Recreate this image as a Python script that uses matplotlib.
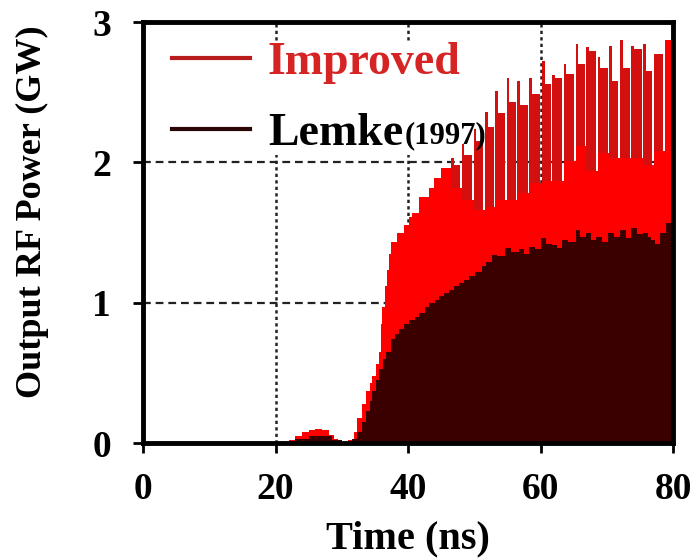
import matplotlib
matplotlib.use("Agg")
import matplotlib.pyplot as plt
from matplotlib.lines import Line2D

plt.rcParams['font.family'] = ['Liberation Serif', 'DejaVu Serif']
plt.rcParams['font.weight'] = 'bold'

# ---------------- data ----------------
x_ticks = [0, 20, 40, 60, 80]
y_ticks = [0, 1, 2, 3]
grid_x = [20, 40, 60]
grid_y = [1, 2]
legend_labels = ["Improved", "Lemke"]
legend_note = "(1997)"

# Improved: rising part (ns, GW)
imp_rise_t = [0, 21, 22, 23, 24, 25, 26, 27, 28, 28.8, 29.5, 31.0, 31.8, 32.3, 33.0,
              33.7, 34.2, 34.6, 35.1, 35.6, 35.9, 36.1, 36.5, 36.8, 37.1, 37.4, 38.3,
              39.4, 40.2, 40.6, 41.7, 43.2, 43.9, 45.0]
imp_rise_v = [0, 0.01, 0.02, 0.05, 0.08, 0.09, 0.10, 0.09, 0.06, 0.03, 0.01, 0.02, 0.08,
              0.18, 0.28, 0.37, 0.43, 0.48, 0.56, 0.65, 0.85, 0.97, 1.12, 1.23, 1.35,
              1.43, 1.50, 1.55, 1.61, 1.64, 1.75, 1.82, 1.89, 1.96]
# Improved: oscillating part (spike times, peak, shoulder, trough levels)
imp_peak_t = [46.5, 48.1, 49.9, 51.6, 53.2, 54.9, 56.5, 58.3, 60.2, 61.8, 63.5,
              65.3, 66.9, 68.6, 70.4, 72.0, 73.7, 75.5, 77.1, 78.8]
imp_peak_v = [2.03, 2.13, 2.24, 2.36, 2.51, 2.60, 2.58, 2.60, 2.72, 2.62, 2.70,
              2.84, 2.82, 2.75, 2.83, 2.87, 2.83, 2.84, 2.77, 2.87]
imp_shoulder_v = [1.98, 2.05, 2.15, 2.25, 2.35, 2.43, 2.41, 2.49, 2.56, 2.60, 2.63,
                  2.70, 2.79, 2.67, 2.58, 2.67, 2.81, 2.65, 2.77, 2.87]
imp_trough_v = [1.82, 1.73, 1.66, 1.68, 1.73, 1.73, 1.78, 1.85, 1.87, 1.87, 2.01,
                2.12, 1.94, 2.07, 2.03, 2.03, 2.03, 1.98, 2.08, 2.87]

# Lemke (1997)
lem_t = [0, 21, 23, 25, 27, 28.5, 30, 31.5, 32.3, 33.0, 33.7, 34.2, 34.6, 35.1, 35.6,
         36.2, 36.7, 37.4, 38.0, 38.6, 39.4, 40.2, 41.0, 41.7, 42.5, 43.2, 44.0, 44.7,
         45.5, 46.2, 47.0, 47.7, 48.5, 49.2, 50.1, 51.1, 51.8, 52.6, 53.5, 54.7, 55.6,
         56.7, 57.5, 58.2, 59.1, 60.0, 60.8, 61.7, 62.5, 63.2, 64.2, 65.3, 66.0, 66.8,
         67.6, 68.4, 69.3, 70.2, 71.1, 72.0, 72.9, 73.7, 74.6, 75.5, 76.2, 76.7, 77.3,
         78.0, 79.0, 80]
lem_v = [0, 0.01, 0.03, 0.05, 0.05, 0.02, 0.01, 0.03, 0.08, 0.15, 0.23, 0.30, 0.37,
         0.45, 0.53, 0.60, 0.65, 0.74, 0.78, 0.81, 0.85, 0.88, 0.90, 0.93, 0.97, 1.00,
         1.02, 1.05, 1.07, 1.09, 1.12, 1.14, 1.16, 1.19, 1.22, 1.26, 1.29, 1.34, 1.33,
         1.39, 1.36, 1.38, 1.35, 1.40, 1.38, 1.46, 1.42, 1.41, 1.39, 1.45, 1.43, 1.52,
         1.47, 1.50, 1.45, 1.47, 1.43, 1.50, 1.47, 1.52, 1.46, 1.53, 1.49, 1.50, 1.47,
         1.45, 1.42, 1.50, 1.57, 1.57]

# ---------------- styles ----------------
C_SPIKE = "#d40f0f"
C_RED = "#ff0000"
C_LEMKE = "#3a0000"
C_IMP_LINE = "#b81c1c"
C_LEM_LINE = "#2a0606"
C_IMP_TEXT = "#d62424"
CAP_W = 0.4      # width of spike tops (ns)
GAP_W = 0.25     # width of dips (ns)
X_MAX = x_ticks[-1]

# build step sequences from the read values
spk_t, spk_v = list(imp_rise_t), list(imp_rise_v)
base_t, base_v = list(imp_rise_t), list(imp_rise_v)
n = len(imp_peak_t)
for k in range(n):
    t0 = imp_peak_t[k]
    t1 = imp_peak_t[k + 1] if k + 1 < n else X_MAX
    spk_t += [t0, t0 + CAP_W, t1 - GAP_W]
    spk_v += [imp_peak_v[k], imp_shoulder_v[k], imp_trough_v[k]]
    base_t.append(t0)
    base_v.append(imp_trough_v[k])
spk_t.append(X_MAX); spk_v.append(spk_v[-1])
base_t.append(X_MAX); base_v.append(base_v[-1])

fig = plt.figure(figsize=(6.94, 5.6), dpi=100)
ax = fig.add_axes([0.2061, 0.2089, 0.7637, 0.7518])

for gx in grid_x:
    ax.axvline(gx, color="#222222", lw=1.8, ls=(0, (1.3, 1.3)), zorder=0.5)
for gy in grid_y:
    ax.axhline(gy, color="#222222", lw=1.6, ls=(0, (3.5, 2.2)), zorder=0.5)

ax.fill_between(spk_t, 0, spk_v, step="post", color=C_SPIKE, lw=0, zorder=2)
ax.fill_between(base_t, 0, base_v, step="post", color=C_RED, lw=0, zorder=2.1)
ax.fill_between(lem_t, 0, lem_v, step="post", color=C_LEMKE, lw=0, zorder=2.2)

ax.set_xlim(x_ticks[0], x_ticks[-1])
ax.set_ylim(y_ticks[0], y_ticks[-1])
ax.set_xticks(x_ticks)
ax.set_yticks(y_ticks)
ax.tick_params(axis="both", direction="out", length=7, width=2, labelsize=27)
ax.tick_params(axis="x", pad=14)
ax.tick_params(axis="y", pad=16)
for s in ax.spines.values():
    s.set_linewidth(3.5)
    s.set_zorder(5)

ax.set_xlabel("Time (ns)", fontsize=29, fontweight="bold")
ax.set_ylabel("Output RF Power (GW)", fontsize=26, fontweight="bold")
ax.xaxis.set_label_coords(0.5, -0.185)
ax.yaxis.set_label_coords(-0.177, 0.55)

handles = [Line2D([], [], color=C_IMP_LINE, lw=3),
           Line2D([], [], color=C_LEM_LINE, lw=3)]
leg = ax.legend(handles, legend_labels, loc="upper left", bbox_to_anchor=(0.054, 0.952),
                frameon=True, facecolor="white", edgecolor="none", framealpha=1,
                handlelength=1.7, handletextpad=0.4, labelspacing=0.62,
                borderpad=0.0, borderaxespad=0, prop={"weight": "bold", "size": 33})
leg.get_texts()[0].set_color(C_IMP_TEXT)
leg.get_texts()[1].set_color("black")
leg.set_zorder(1.5)

ax.annotate(legend_note, xy=(1, 0), xycoords=leg.get_texts()[1], xytext=(1, 3),
            textcoords="offset points", fontsize=22, fontweight="bold",
            ha="left", va="bottom", color="black", zorder=6)

fig.savefig("out.png", dpi=100)
